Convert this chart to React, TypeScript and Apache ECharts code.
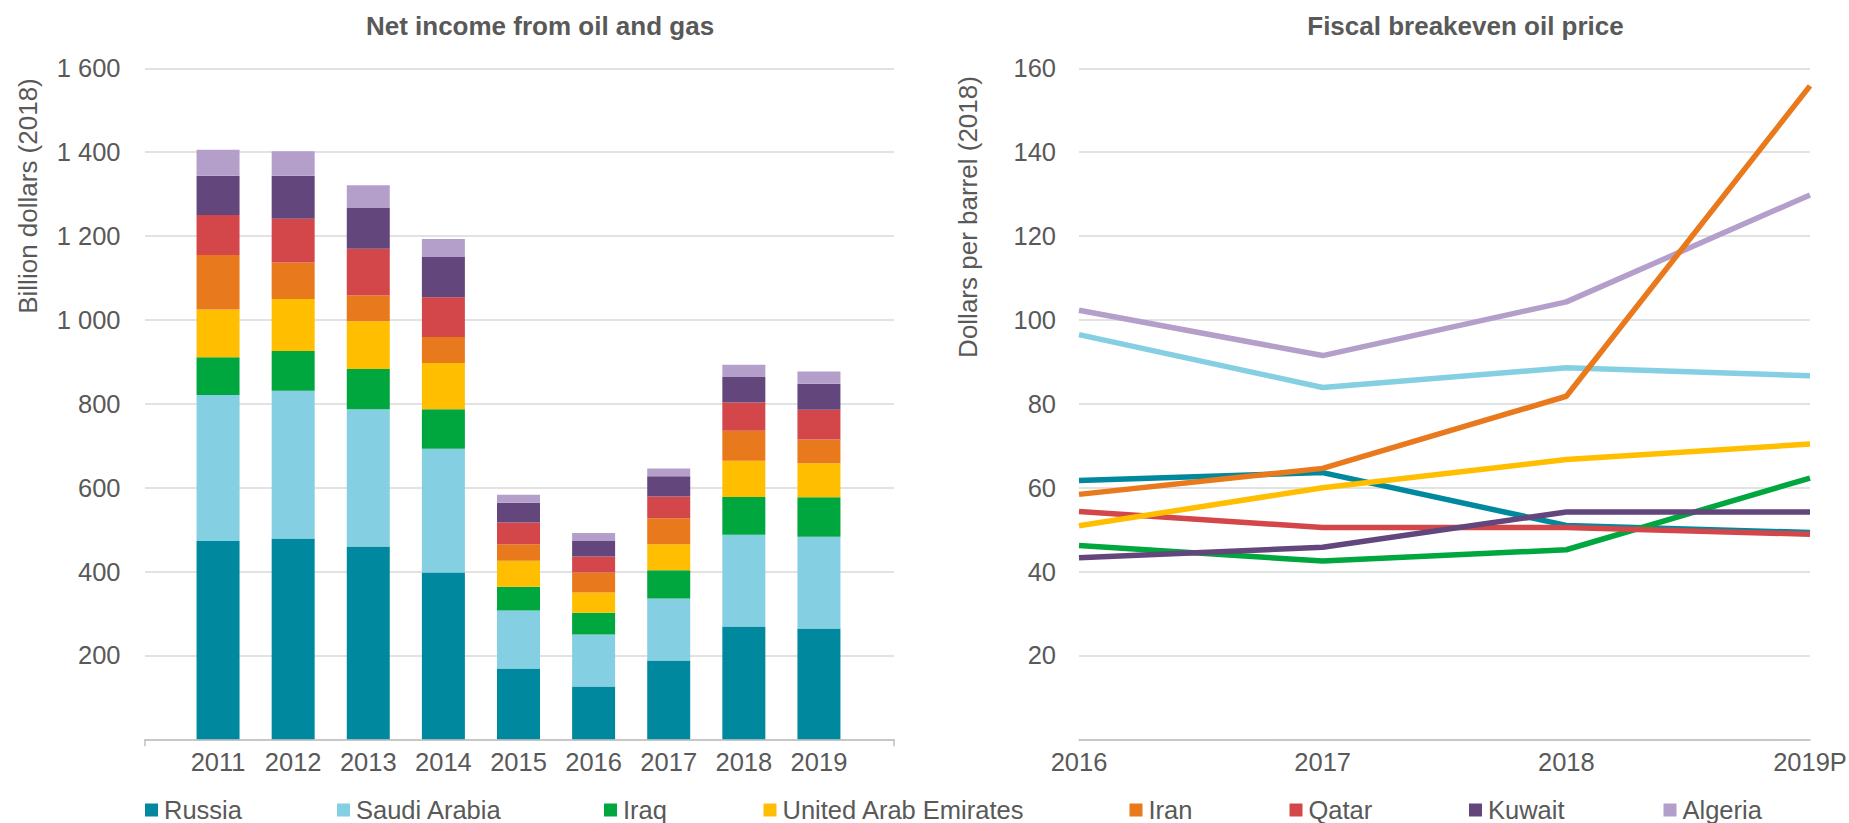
import React, { useEffect, useRef } from 'react';
import * as echarts from 'echarts';

const countries = ['Russia', 'Saudi Arabia', 'Iraq', 'United Arab Emirates', 'Iran', 'Qatar', 'Kuwait', 'Algeria'];
const countryColors = ['#00889F', '#84CFE2', '#00A63E', '#FFBF00', '#E8791C', '#D3474A', '#63467B', '#B49FCB'];

// Net income from oil and gas, billion dollars (2018)
const incomeYears = ['2011', '2012', '2013', '2014', '2015', '2016', '2017', '2018', '2019'];
const incomeRussia = [473, 479, 460, 398, 169, 126, 188, 269, 264];
const incomeSaudi = [348, 352, 327, 295, 138, 124, 148, 219, 219];
const incomeIraq = [90, 95, 96, 94, 57, 52, 67, 90, 94];
const incomeUAE = [114, 124, 114, 110, 62, 48, 62, 86, 81];
const incomeIran = [130, 87, 62, 62, 39, 48, 62, 72, 57];
const incomeQatar = [95, 104, 111, 95, 52, 38, 52, 67, 71];
const incomeKuwait = [94, 103, 98, 96, 47, 37, 48, 61, 62];
const incomeAlgeria = [62, 58, 53, 43, 19, 19, 19, 29, 29];

// Fiscal breakeven oil price, dollars per barrel (2018)
const priceYears = ['2016', '2017', '2018', '2019P'];
const priceRussia = [61.7, 63.6, 51, 49.3];
const priceSaudi = [96.5, 83.9, 88.6, 86.7];
const priceIraq = [46.2, 42.5, 45.2, 62.3];
const priceUAE = [50.9, 60, 66.7, 70.4];
const priceIran = [58.4, 64.6, 81.8, 155.8];
const priceQatar = [54.3, 50.5, 50.5, 48.9];
const priceKuwait = [43.3, 45.8, 54.2, 54.2];
const priceAlgeria = [102.3, 91.5, 104.3, 129.8];

const incomeTicks = { min: 0, max: 1600, interval: 200 };
const priceTicks = { min: 0, max: 160, interval: 20 };

const incomeSeries = [incomeRussia, incomeSaudi, incomeIraq, incomeUAE, incomeIran, incomeQatar, incomeKuwait, incomeAlgeria];
const priceSeries = [priceRussia, priceSaudi, priceIraq, priceUAE, priceIran, priceQatar, priceKuwait, priceAlgeria];
// drawing order of the lines (later on top)
const lineOrder = [0, 1, 2, 5, 3, 6, 7, 4];

const FONT = '"Liberation Sans", Arial, sans-serif';
const TEXT = '#595959';
const legendLefts = [145, 337, 604, 763.5, 1129.5, 1289.5, 1469, 1663.5];

export default function App() {
  const ref = useRef<HTMLDivElement>(null);
  useEffect(() => {
    if (!ref.current) return;
    const chart = echarts.init(ref.current, undefined, { renderer: 'svg' });
    const labelStyle = { fontSize: 25.5, color: TEXT, fontFamily: FONT };
    const option: any = {
      animation: false,
      textStyle: { fontFamily: FONT },
      grid: [
        { left: 145, top: 68.3, width: 749, height: 671, outerBoundsMode: 'none' },
        { left: 180.5, top: 68.3, width: 676, height: 671, outerBoundsMode: 'none' },
        { left: 1079, top: 68.3, width: 731, height: 671, outerBoundsMode: 'none' },
      ],
      xAxis: [
        {
          gridIndex: 0, type: 'value', min: 0, max: 1, interval: 1,
          axisLine: { show: true, lineStyle: { color: '#BFBFBF', width: 1.5 } },
          axisTick: { show: true, length: 7, lineStyle: { color: '#BFBFBF', width: 1.5 } },
          axisLabel: { show: false }, splitLine: { show: false },
        },
        {
          gridIndex: 1, type: 'category', data: incomeYears,
          axisLine: { show: false }, axisTick: { show: false },
          axisLabel: { ...labelStyle, margin: 10 },
        },
        {
          gridIndex: 2, type: 'category', data: priceYears, boundaryGap: false,
          axisLine: { show: true, lineStyle: { color: '#BFBFBF', width: 1.5 } },
          axisTick: { show: false },
          axisLabel: { ...labelStyle, margin: 10 },
        },
      ],
      yAxis: [
        {
          gridIndex: 0, type: 'value', ...incomeTicks,
          axisLine: { show: false }, axisTick: { show: false },
          axisLabel: {
            ...labelStyle, margin: 24.5, showMinLabel: false,
            formatter: (v: number) => (v >= 1000 ? `${Math.floor(v / 1000)} ${String(v % 1000).padStart(3, '0')}` : String(v)),
          },
          splitLine: { lineStyle: { color: '#D9D9D9', width: 1.5 } },
        },
        { gridIndex: 1, type: 'value', ...incomeTicks, show: false, splitLine: { show: false } },
        {
          gridIndex: 2, type: 'value', ...priceTicks,
          axisLine: { show: false }, axisTick: { show: false },
          axisLabel: { ...labelStyle, margin: 23, showMinLabel: false },
          splitLine: { lineStyle: { color: '#D9D9D9', width: 1.5 } },
        },
      ],
      legend: countries.map((name, i) => ({
        data: [name],
        left: legendLefts[i],
        top: 797,
        padding: 0,
        icon: 'rect',
        itemWidth: 13,
        itemHeight: 13,
        selectedMode: false,
        textStyle: { fontSize: 25.5, color: TEXT, fontFamily: FONT, lineHeight: 26, padding: [0, 0, 0, 1] },
      })),
      graphic: [
        {
          type: 'text', x: 540, y: 26,
          style: { text: 'Net income from oil and gas', fontSize: 26, fontWeight: 'bold', fill: TEXT, fontFamily: FONT, align: 'center', verticalAlign: 'middle', textAlign: 'center', textVerticalAlign: 'middle' },
        },
        {
          type: 'text', x: 1465.5, y: 26,
          style: { text: 'Fiscal breakeven oil price', fontSize: 26, fontWeight: 'bold', fill: TEXT, fontFamily: FONT, align: 'center', verticalAlign: 'middle', textAlign: 'center', textVerticalAlign: 'middle' },
        },
        {
          type: 'text', x: 28, y: 196, rotation: Math.PI / 2,
          style: { text: 'Billion dollars (2018)', fontSize: 26, fill: TEXT, fontFamily: FONT, align: 'center', verticalAlign: 'middle', textAlign: 'center', textVerticalAlign: 'middle' },
        },
        {
          type: 'text', x: 968, y: 217, rotation: Math.PI / 2,
          style: { text: 'Dollars per barrel (2018)', fontSize: 26, fill: TEXT, fontFamily: FONT, align: 'center', verticalAlign: 'middle', textAlign: 'center', textVerticalAlign: 'middle' },
        },
      ],
      series: [
        ...countries.map((name, i) => ({
          name,
          type: 'bar',
          stack: 'income',
          xAxisIndex: 1,
          yAxisIndex: 1,
          barWidth: 43,
          itemStyle: { color: countryColors[i] },
          data: incomeSeries[i],
        })),
        ...lineOrder.map((i) => ({
          name: countries[i],
          type: 'line',
          xAxisIndex: 2,
          yAxisIndex: 2,
          symbol: 'none',
          lineStyle: { color: countryColors[i], width: 5.5, cap: 'butt', join: 'round' },
          itemStyle: { color: countryColors[i] },
          data: priceSeries[i],
        })),
      ],
    };
    chart.setOption(option);
    return () => chart.dispose();
  }, []);
  return (
    <div
      ref={ref}
      style={{ position: 'fixed', left: 0, top: 0, width: 1849, height: 823, background: '#fff' }}
    />
  );
}
